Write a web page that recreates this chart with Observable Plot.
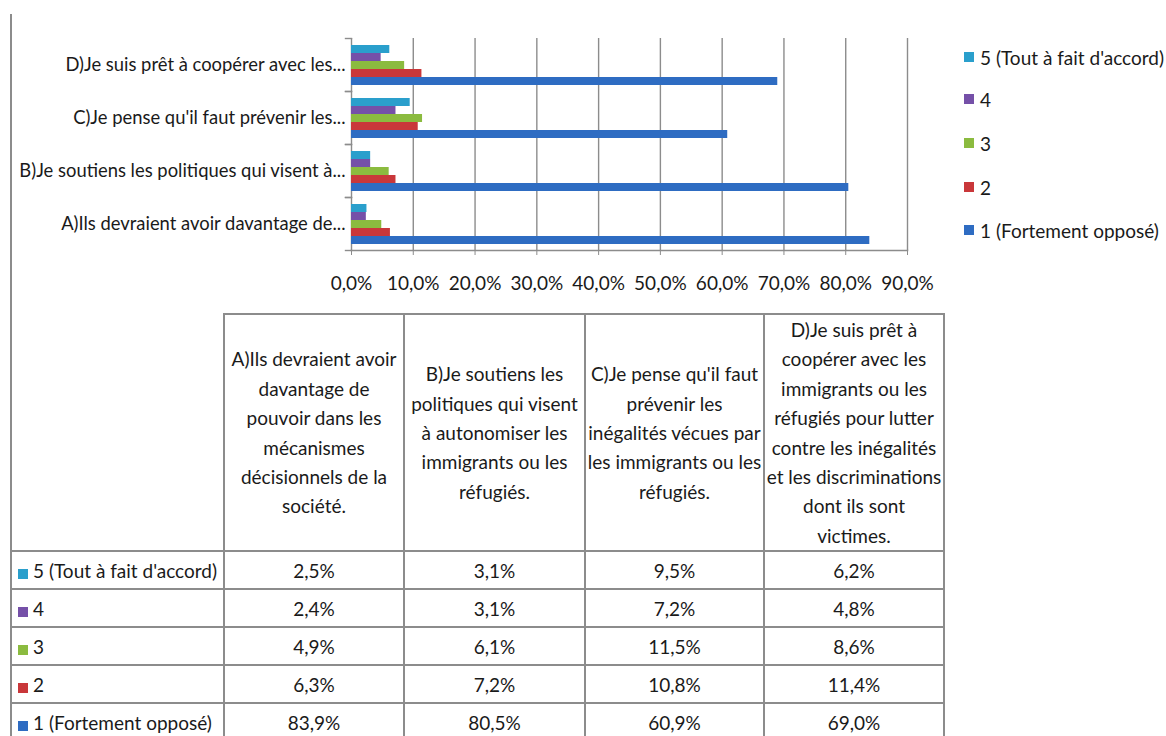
<!DOCTYPE html>
<html>
<head>
<meta charset="utf-8">
<script src="https://cdn.jsdelivr.net/npm/d3@7"></script>
<script src="https://cdn.jsdelivr.net/npm/@observablehq/plot@0.6"></script>
<style>
  html, body { margin: 0; padding: 0; background: #fff; }
  #wrap { position: relative; width: 1166px; height: 736px; overflow: hidden; background: #fff; font-family: Lato, "Open Sans", sans-serif; color: #1a1a1a; }
  #chart { position: absolute; left: 0; top: 0; }
  #vline { position: absolute; left: 10px; top: 14px; width: 2px; height: 722px; background: #8c8c8c; }
  #legend { position: absolute; left: 964px; top: 0; font-size: 19px; }
  .litem { position: absolute; left: 0; white-space: nowrap; display: flex; align-items: center; height: 24px; }
  .sw { display: inline-block; flex: none; width: 10px; height: 10px; margin-right: 6px; }
  table { position: absolute; left: 10px; top: 313px; border-collapse: collapse; table-layout: fixed; font-size: 19px; }
  td { border: 2px solid #8c8c8c; padding: 0; }
  thead td { height: 234px; text-align: center; vertical-align: middle; line-height: 29.4px; white-space: nowrap; }
  thead td.blank { border-top: none; border-left: none; }
  tbody td { height: 36px; text-align: center; vertical-align: middle; white-space: nowrap; }
  tbody td.lab { text-align: left; padding-left: 6px; }
  tbody td.lab .sw { margin-right: 5px; vertical-align: -1px; }
</style>
</head>
<body>
<div id="wrap">
  <div id="chart"></div>
  <div id="vline"></div>
  <div id="legend"></div>
  <table id="tbl"></table>
</div>
<script>
// ---- data ----
const headerLines = [
  ["A)Ils devraient avoir", "davantage de", "pouvoir dans les", "mécanismes", "décisionnels de la", "société."],
  ["B)Je soutiens les", "politiques qui visent", "à autonomiser les", "immigrants ou les", "réfugiés."],
  ["C)Je pense qu'il faut", "prévenir les", "inégalités vécues par", "les immigrants ou les", "réfugiés."],
  ["D)Je suis prêt à", "coopérer avec les", "immigrants ou les", "réfugiés pour lutter", "contre les inégalités", "et les discriminations", "dont ils sont", "victimes."]
];
const categories = headerLines.map(l => l.join(" "));
const shortLabels = [
  "A)Ils devraient avoir davantage de...",
  "B)Je soutiens les politiques qui visent à...",
  "C)Je pense qu'il faut prévenir les...",
  "D)Je suis prêt à coopérer avec les..."
];
const seriesNames = ["5 (Tout à fait d'accord)", "4", "3", "2", "1 (Fortement opposé)"];
const seriesColors = ["#2a9fcc", "#7550a8", "#8bbb3f", "#c9373a", "#2e6cc2"];
const values5 = [2.5, 3.1, 9.5, 6.2];
const values4 = [2.4, 3.1, 7.2, 4.8];
const values3 = [4.9, 6.1, 11.5, 8.6];
const values2 = [6.3, 7.2, 10.8, 11.4];
const values1 = [83.9, 80.5, 60.9, 69.0];
const seriesValues = [values5, values4, values3, values2, values1];
const xTicks = [0, 10, 20, 30, 40, 50, 60, 70, 80, 90];

const fmt = v => v.toFixed(1).replace(".", ",") + "%";

const rows = [];
seriesNames.forEach((s, j) => categories.forEach((c, i) => rows.push({cat: c, series: s, value: seriesValues[j][i]})));

// ---- chart ----
const W = 960, H = 300, ML = 351, MR = 53, MT = 36, MB = 49;
const gray = "#8c8c8c";
const shortOf = new Map(categories.map((c, i) => [c, shortLabels[i]]));

const chart = Plot.plot({
  width: W, height: H,
  marginLeft: ML, marginRight: MR, marginTop: MT, marginBottom: MB,
  style: {fontFamily: "Lato, 'Open Sans', sans-serif", fontSize: "19px", color: "#1a1a1a", background: "transparent"},
  x: {domain: [0, 90]},
  y: {domain: seriesNames, paddingInner: 0.05, paddingOuter: 0.75, axis: null},
  fy: {domain: categories.slice().reverse(), padding: 0},
  color: {domain: seriesNames, range: seriesColors},
  marks: [
    Plot.ruleX(xTicks, {x: d => d, stroke: gray, strokeWidth: 1.4, strokeOpacity: 1}),
    Plot.barX(rows, {fy: "cat", y: "series", x: "value", fill: "series"}),
    Plot.frame({anchor: "top", stroke: gray, strokeWidth: 1.4, insetLeft: -6, insetRight: W - ML - MR}),
    Plot.frame({anchor: "bottom", stroke: gray, strokeWidth: 1.4, insetLeft: -6, insetRight: W - ML - MR}),
    Plot.frame({anchor: "bottom", stroke: gray, strokeWidth: 1.6, facet: "super"}),
    Plot.axisFy({anchor: "left", tickSize: 0, tickPadding: 6, label: null, tickFormat: d => shortOf.get(d), fontSize: 18.4}),
    Plot.axisX({ticks: xTicks, tickFormat: fmt, tickSize: 5, tickPadding: 21, label: null, stroke: gray, fontSize: 19})
  ]
});
document.getElementById("chart").appendChild(chart);

// ---- legend ----
const legend = document.getElementById("legend");
const legendY = [57, 99, 143, 187, 230];
seriesNames.forEach((s, j) => {
  const it = document.createElement("div");
  it.className = "litem";
  it.style.top = (legendY[j] - 12) + "px";
  it.innerHTML = `<span class="sw" style="background:${seriesColors[j]}"></span><span>${s}</span>`;
  legend.appendChild(it);
});

// ---- data table ----
const colW = [213, 180, 181, 179, 180];
const tbl = document.getElementById("tbl");
let html = "<colgroup>" + colW.map(w => `<col style="width:${w}px">`).join("") + "</colgroup>";
html += "<thead><tr><td class='blank'></td>" + headerLines.map(l => `<td>${l.join("<br>")}</td>`).join("") + "</tr></thead><tbody>";
seriesNames.forEach((s, j) => {
  html += `<tr><td class="lab"><span class="sw" style="background:${seriesColors[j]}"></span>${s}</td>` +
    seriesValues[j].map(v => `<td>${fmt(v)}</td>`).join("") + "</tr>";
});
html += "</tbody>";
tbl.innerHTML = html;
</script>
</body>
</html>
